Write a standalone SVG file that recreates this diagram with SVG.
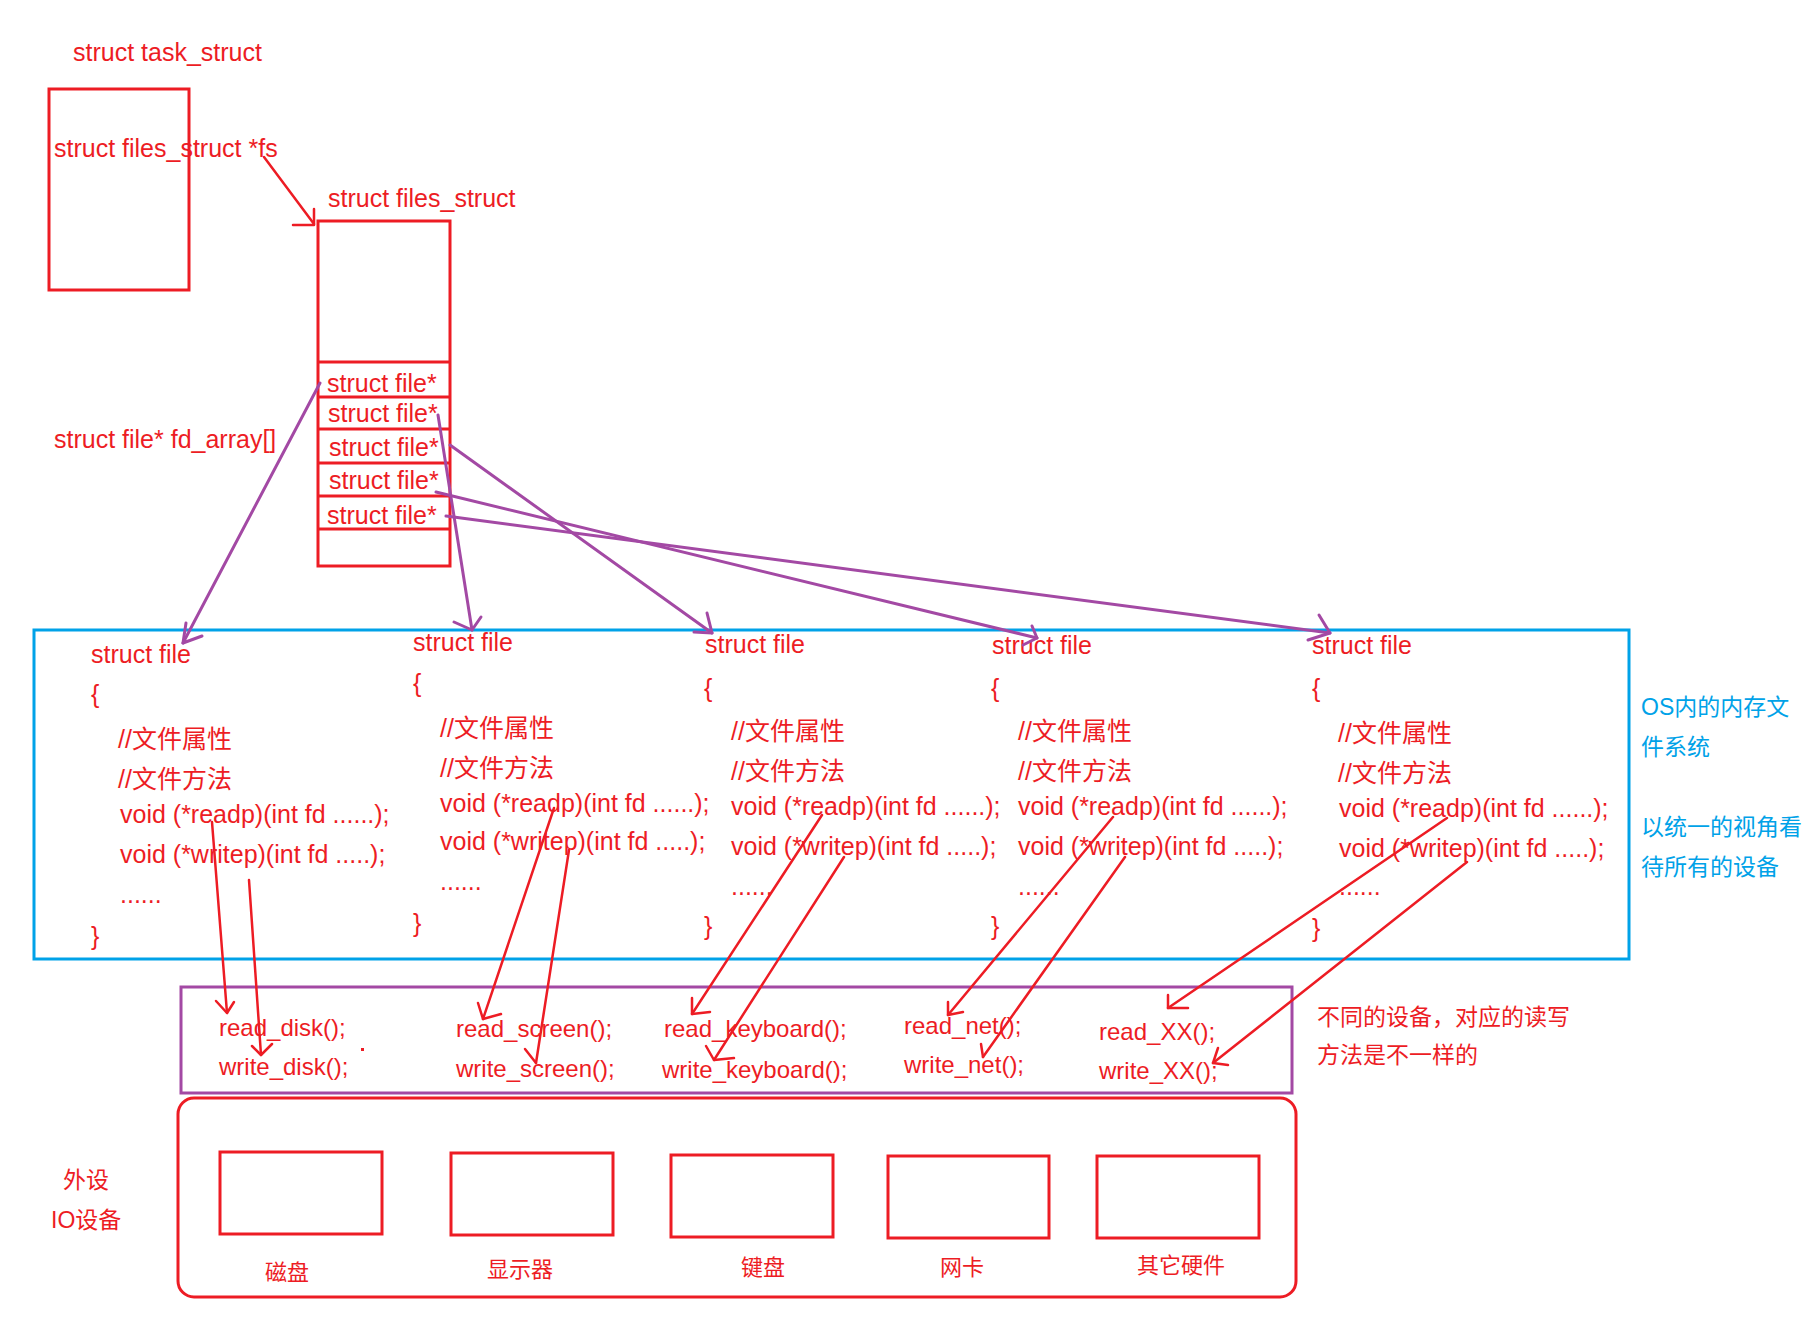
<svg xmlns="http://www.w3.org/2000/svg" width="1814" height="1333" viewBox="0 0 1814 1333">
<style>
text{font-family:"Liberation Sans","Noto Sans CJK SC",sans-serif;font-size:25px;fill:#ED1C24}
.f24{font-size:24px}
.c23{font-size:23px}
.c22{font-size:22px}
.blue{fill:#00A2E8}
.rbox{fill:none;stroke:#ED1C24;stroke-width:3}
.bbox{fill:none;stroke:#00A2E8;stroke-width:3}
.pbox{fill:none;stroke:#A349A4;stroke-width:3}
.ra{fill:none;stroke:#ED1C24;stroke-width:2.5;stroke-linecap:round;stroke-linejoin:round}
.pa{fill:none;stroke:#A349A4;stroke-width:3;stroke-linecap:round;stroke-linejoin:round}
</style>
<rect width="1814" height="1333" fill="#fff"/>

<g id="task_struct">
<text x="73" y="61">struct task_struct</text>
<rect class="rbox" x="49" y="89" width="140" height="201"/>
<text x="54" y="157">struct files_struct *fs</text>
</g>

<g id="files_struct">
<text x="328" y="207">struct files_struct</text>
<rect class="rbox" x="318" y="221" width="132" height="345"/>
<line class="rbox" x1="318" y1="362" x2="450" y2="362"/>
<line class="rbox" x1="318" y1="397" x2="450" y2="397"/>
<line class="rbox" x1="318" y1="429" x2="450" y2="429"/>
<line class="rbox" x1="318" y1="463" x2="450" y2="463"/>
<line class="rbox" x1="318" y1="496" x2="450" y2="496"/>
<line class="rbox" x1="318" y1="529" x2="450" y2="529"/>
<text x="327" y="392">struct file*</text>
<text x="328" y="422">struct file*</text>
<text x="329" y="456">struct file*</text>
<text x="329" y="489">struct file*</text>
<text x="327" y="524">struct file*</text>
</g>

<g id="fd_array_label">
<text x="54" y="448">struct file* fd_array[]</text>
</g>

<g id="file_system">
<rect class="bbox" x="34" y="630" width="1595" height="329"/>
<text class="c23 blue" x="1641" y="715">OS内的内存文</text>
<text class="c23 blue" x="1641" y="755">件系统</text>
<text class="c23 blue" x="1641" y="835">以统一的视角看</text>
<text class="c23 blue" x="1641" y="875">待所有的设备</text>
</g>

<g id="file1">
<text x="91" y="663">struct file</text>
<text x="91" y="703">{</text>
<text x="118" y="748">//文件属性</text>
<text x="118" y="788">//文件方法</text>
<text x="120" y="823">void (*readp)(int fd ......);</text>
<text x="120" y="863">void (*writep)(int fd .....);</text>
<text x="120" y="903">......</text>
<text x="91" y="945">}</text>
</g>

<g id="file2">
<text x="413" y="651">struct file</text>
<text x="413" y="692">{</text>
<text x="440" y="737">//文件属性</text>
<text x="440" y="777">//文件方法</text>
<text x="440" y="812">void (*readp)(int fd ......);</text>
<text x="440" y="850">void (*writep)(int fd .....);</text>
<text x="440" y="890">......</text>
<text x="413" y="932">}</text>
</g>

<g id="file3">
<text x="705" y="653">struct file</text>
<text x="704" y="697">{</text>
<text x="731" y="740">//文件属性</text>
<text x="731" y="780">//文件方法</text>
<text x="731" y="815">void (*readp)(int fd ......);</text>
<text x="731" y="855">void (*writep)(int fd .....);</text>
<text x="731" y="895">......</text>
<text x="704" y="935">}</text>
</g>

<g id="file4">
<text x="992" y="654">struct file</text>
<text x="991" y="697">{</text>
<text x="1018" y="740">//文件属性</text>
<text x="1018" y="780">//文件方法</text>
<text x="1018" y="815">void (*readp)(int fd ......);</text>
<text x="1018" y="855">void (*writep)(int fd .....);</text>
<text x="1018" y="895">......</text>
<text x="991" y="935">}</text>
</g>

<g id="file5">
<text x="1312" y="654">struct file</text>
<text x="1312" y="697">{</text>
<text x="1338" y="742">//文件属性</text>
<text x="1338" y="782">//文件方法</text>
<text x="1339" y="817">void (*readp)(int fd ......);</text>
<text x="1339" y="857">void (*writep)(int fd .....);</text>
<text x="1339" y="895">......</text>
<text x="1312" y="937">}</text>
</g>

<g id="drivers">
<rect class="pbox" x="181" y="987" width="1111" height="106"/>
<text class="f24" x="219" y="1036">read_disk();</text>
<text class="f24" x="219" y="1075">write_disk();</text>
<rect x="361" y="1048" width="3" height="3" fill="#ED1C24"/>
<text class="f24" x="456" y="1037">read_screen();</text>
<text class="f24" x="456" y="1077">write_screen();</text>
<text class="f24" x="664" y="1037">read_keyboard();</text>
<text class="f24" x="662" y="1078">write_keyboard();</text>
<text class="f24" x="904" y="1034">read_net();</text>
<text class="f24" x="904" y="1073">write_net();</text>
<text class="f24" x="1099" y="1040">read_XX();</text>
<text class="f24" x="1099" y="1079">write_XX();</text>
</g>

<g id="driver_note">
<text class="c23" x="1317" y="1025">不同的设备，对应的读写</text>
<text class="c23" x="1317" y="1063">方法是不一样的</text>
</g>

<g id="devices">
<rect class="rbox" x="178" y="1098" width="1118" height="199" rx="16" ry="16"/>
<text class="c23" x="63" y="1188">外设</text>
<text class="c23" x="51" y="1228">IO设备</text>
<rect class="rbox" x="220" y="1152" width="162" height="82"/>
<rect class="rbox" x="451" y="1153" width="162" height="82"/>
<rect class="rbox" x="671" y="1155" width="162" height="82"/>
<rect class="rbox" x="888" y="1156" width="161" height="82"/>
<rect class="rbox" x="1097" y="1156" width="162" height="82"/>
<text class="c22" x="265" y="1280">磁盘</text>
<text class="c22" x="487" y="1277">显示器</text>
<text class="c22" x="741" y="1275">键盘</text>
<text class="c22" x="940" y="1275">网卡</text>
<text class="c22" x="1137" y="1273">其它硬件</text>
</g>

<g id="connectors">
<line class="ra" x1="264" y1="157" x2="314" y2="224"/>
<polyline class="ra" points="293,225 314,225 314,209"/>

<line class="pa" x1="320" y1="383" x2="183" y2="643"/>
<polyline class="pa" points="186,623 183,643 202,636"/>
<line class="pa" x1="438" y1="415" x2="472" y2="630"/>
<polyline class="pa" points="454,622 472,630 481,617"/>
<line class="pa" x1="450" y1="445" x2="712" y2="633"/>
<polyline class="pa" points="707,613 712,633 694,632"/>
<line class="pa" x1="436" y1="492" x2="1037" y2="638"/>
<polyline class="pa" points="1032,626 1037,638 1023,645"/>
<line class="pa" x1="446" y1="516" x2="1330" y2="633"/>
<polyline class="pa" points="1319,615 1330,633 1308,640"/>

<line class="ra" x1="212" y1="822" x2="227" y2="1013"/>
<polyline class="ra" points="216,1001 227,1013 234,1002"/>
<line class="ra" x1="249" y1="880" x2="261" y2="1055"/>
<polyline class="ra" points="252,1046 261,1055 272,1044"/>
<line class="ra" x1="554" y1="808" x2="483" y2="1019"/>
<polyline class="ra" points="478,1003 483,1019 501,1014"/>
<line class="ra" x1="569" y1="850" x2="536" y2="1063"/>
<polyline class="ra" points="525,1049 536,1063"/>
<line class="ra" x1="822" y1="815" x2="692" y2="1014"/>
<polyline class="ra" points="692,998 692,1014 710,1012"/>
<line class="ra" x1="844" y1="857" x2="714" y2="1060"/>
<polyline class="ra" points="706,1046 714,1060 734,1058"/>
<line class="ra" x1="1113" y1="817" x2="948" y2="1015"/>
<polyline class="ra" points="948,1002 948,1015 963,1012"/>
<line class="ra" x1="1125" y1="857" x2="983" y2="1057"/>
<polyline class="ra" points="981,1044 983,1057"/>
<line class="ra" x1="1447" y1="818" x2="1168" y2="1008"/>
<polyline class="ra" points="1168,995 1168,1008 1188,1008"/>
<line class="ra" x1="1467" y1="862" x2="1213" y2="1063"/>
<polyline class="ra" points="1218,1048 1213,1063 1228,1065"/>
</g>
</svg>
